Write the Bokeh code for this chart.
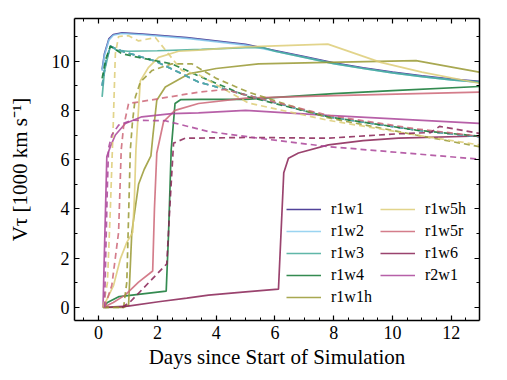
from bokeh.plotting import figure
from bokeh.models import (Range1d, LinearAxis, SingleIntervalTicker, Legend, LegendItem,
                          CustomJSTickFormatter)
from bokeh.embed import file_html
from bokeh.resources import INLINE

# ---------------- data (days, 1000 km/s) ----------------
models = ["r1w1", "r1w2", "r1w3", "r1w4", "r1w1h", "r1w5h", "r1w5r", "r1w6", "r2w1"]
colors = ["#332288", "#88CCEE", "#44AA99", "#117733", "#999933",
          "#DDCC77", "#CC6677", "#882255", "#AA4499"]

# solid lines
r1w1_x = [0.12, 0.2, 0.35, 0.5, 0.8, 1.5, 3.0, 5.0, 6.0, 7.0, 8.0, 9.0, 10.0, 11.0, 12.0, 12.95]
r1w1_y = [9.65, 10.3, 10.9, 11.08, 11.15, 11.1, 10.95, 10.68, 10.43, 10.18, 9.93, 9.73, 9.55, 9.4, 9.27, 9.18]
r1w2_x = [0.12, 0.2, 0.35, 0.5, 0.8, 1.5, 3.0, 5.0, 6.0, 7.0, 8.0, 9.0, 10.0, 11.0, 12.0, 12.95]
r1w2_y = [9.6, 10.25, 10.85, 11.05, 11.12, 11.07, 10.92, 10.65, 10.4, 10.15, 9.9, 9.7, 9.52, 9.37, 9.24, 9.15]
r1w3_x = [0.12, 0.2, 0.4, 0.6, 1.0, 2.0, 3.5, 5.0, 5.6, 6.0, 7.0, 8.0, 9.0, 10.0, 11.0, 12.0, 12.95]
r1w3_y = [8.55, 9.6, 10.62, 10.45, 10.4, 10.42, 10.48, 10.55, 10.55, 10.4, 10.15, 9.9, 9.7, 9.52, 9.37, 9.24, 9.15]
r1w4_x = [0.15, 0.3, 0.7, 1.5, 2.3, 2.38, 2.47, 2.6, 2.8, 3.5, 5.0, 8.0, 10.0, 12.95]
r1w4_y = [0.0, 0.2, 0.44, 0.55, 0.66, 3.0, 6.4, 8.28, 8.44, 8.45, 8.45, 8.68, 8.8, 8.97]
r1w1h_x = [0.15, 0.85, 1.02, 1.13, 1.36, 1.55, 1.78, 1.85, 1.98, 2.27, 3.06, 4.0, 5.44, 7.8, 10.8, 12.95]
r1w1h_y = [0.0, 0.0, 0.1, 3.05, 5.0, 5.6, 6.15, 7.0, 8.41, 8.95, 9.48, 9.7, 9.89, 9.95, 10.02, 9.55]
r1w5h_x = [0.15, 0.51, 0.74, 0.96, 1.16, 1.22, 1.27, 1.42, 1.7, 2.04, 2.72, 3.4, 5.0, 7.8, 9.6, 11.0, 12.95]
r1w5h_y = [0.0, 0.9, 1.97, 2.64, 3.05, 4.5, 6.4, 9.2, 9.75, 10.15, 10.4, 10.45, 10.58, 10.69, 9.95, 9.55, 9.1]
r1w5r_x = [0.15, 0.5, 0.9, 1.36, 1.84, 1.9, 1.98, 2.21, 2.6, 3.4, 5.0, 8.0, 12.95]
r1w5r_y = [0.0, 0.2, 0.5, 1.03, 1.48, 4.0, 6.27, 7.54, 8.0, 8.28, 8.5, 8.6, 8.74]
r1w6_x = [0.2, 1.0, 2.04, 3.0, 3.74, 5.0, 6.12, 6.3, 6.46, 6.8, 7.82, 9.0, 10.2, 12.95]
r1w6_y = [0.0, 0.05, 0.23, 0.38, 0.5, 0.63, 0.74, 5.47, 6.06, 6.27, 6.6, 6.77, 6.87, 6.96]
r2w1_x = [0.15, 0.28, 0.4, 0.57, 0.91, 1.47, 2.49, 3.4, 5.0, 7.8, 12.95]
r2w1_y = [0.0, 6.13, 6.53, 7.0, 7.47, 7.74, 7.87, 7.9, 8.0, 7.8, 7.47]

# dashed lines
r1w1_dx = [0.12, 0.25, 0.4, 0.8, 1.93, 2.6, 3.4, 5.1, 7.8, 10.8, 12.95]
r1w1_dy = [9.0, 10.0, 10.6, 10.4, 10.0, 9.62, 9.15, 8.6, 7.74, 7.2, 6.93]
r1w2_dx = [0.12, 0.25, 0.4, 0.8, 1.93, 2.6, 3.4, 5.1, 7.8, 10.8, 12.95]
r1w2_dy = [9.0, 10.0, 10.6, 10.4, 10.0, 9.62, 9.15, 8.6, 7.74, 7.2, 6.93]
r1w3_dx = [0.12, 0.25, 0.4, 0.8, 1.93, 2.6, 3.4, 5.1, 7.8, 10.8, 12.95]
r1w3_dy = [9.0, 10.0, 10.6, 10.4, 10.0, 9.62, 9.15, 8.6, 7.74, 7.2, 6.93]
r1w4_dx = [0.12, 0.25, 0.4, 0.8, 1.36, 2.49, 3.4, 5.1, 7.8, 10.8, 12.95]
r1w4_dy = [9.3, 10.1, 10.6, 10.3, 10.15, 9.89, 9.4, 8.55, 7.74, 7.2, 6.95]
r1w1h_dx = [0.15, 0.85, 0.96, 1.08, 1.15, 1.25, 1.42, 1.82, 2.49, 3.17, 4.0, 5.1, 7.8, 10.8, 12.95]
r1w1h_dy = [0.0, 0.0, 1.03, 6.4, 7.5, 8.54, 9.15, 9.62, 9.89, 9.89, 9.3, 8.74, 7.7, 7.0, 6.53]
r1w5h_dx = [0.15, 0.3, 0.4, 0.5, 0.57, 0.68, 1.02, 1.36, 1.93, 2.38, 2.83, 3.4, 5.1, 7.8, 10.8, 12.95]
r1w5h_dy = [0.0, 1.0, 4.0, 7.5, 10.3, 11.0, 11.03, 10.82, 10.96, 10.29, 9.62, 9.45, 8.3, 7.6, 7.0, 6.6]
r1w5r_dx = [0.2, 0.45, 0.68, 0.77, 0.85, 1.02, 1.36, 3.4, 4.3, 5.1, 7.8, 10.8, 12.95]
r1w5r_dy = [0.0, 0.9, 3.05, 6.4, 7.34, 8.28, 8.34, 8.74, 8.85, 8.6, 7.8, 7.25, 6.95]
r1w6_dx = [0.8, 1.08, 2.32, 2.42, 2.55, 2.95, 5.1, 7.8, 10.2, 11.3, 11.6, 12.95]
r1w6_dy = [0.0, 0.23, 1.77, 4.0, 6.67, 6.87, 6.9, 6.87, 7.05, 7.1, 7.35, 7.07]
r2w1_dx = [0.2, 0.3, 0.34, 0.45, 0.68, 1.13, 2.27, 3.74, 5.44, 7.8, 12.95]
r2w1_dy = [0.0, 5.0, 6.47, 7.0, 7.4, 7.6, 7.58, 7.14, 6.87, 6.53, 6.02]

solid = [(r1w1_x, r1w1_y), (r1w2_x, r1w2_y), (r1w3_x, r1w3_y), (r1w4_x, r1w4_y),
         (r1w1h_x, r1w1h_y), (r1w5h_x, r1w5h_y), (r1w5r_x, r1w5r_y), (r1w6_x, r1w6_y),
         (r2w1_x, r2w1_y)]
dashed = [(r1w1_dx, r1w1_dy), (r1w2_dx, r1w2_dy), (r1w3_dx, r1w3_dy), (r1w4_dx, r1w4_dy),
          (r1w1h_dx, r1w1h_dy), (r1w5h_dx, r1w5h_dy), (r1w5r_dx, r1w5r_dy), (r1w6_dx, r1w6_dy),
          (r2w1_dx, r2w1_dy)]

x_label = "Days since Start of Simulation"
y_label = "Vτ [1000 km s⁻¹]"

FONT = "'Liberation Serif'"

p = figure(width=497, height=371, output_backend="svg", toolbar_location=None,
           x_range=Range1d(-0.82, 12.96), y_range=Range1d(-0.53, 11.73),
           min_border_left=74, min_border_right=18, min_border_top=18, min_border_bottom=50,
           x_axis_label=x_label, y_axis_label=y_label)
p.outline_line_color = None
p.xgrid.visible = False
p.ygrid.visible = False
p.background_fill_color = "white"

p.xaxis.ticker = SingleIntervalTicker(interval=2, num_minor_ticks=4)
p.yaxis.ticker = SingleIntervalTicker(interval=2, num_minor_ticks=2)

def style_axis(ax, labels=True):
    ax.axis_line_width = 1.5
    ax.axis_line_color = "black"
    ax.major_tick_in = 5
    ax.major_tick_out = 0
    ax.minor_tick_in = 3
    ax.minor_tick_out = 0
    ax.major_tick_line_width = 1.2
    ax.minor_tick_line_width = 1
    ax.major_label_text_font = FONT
    ax.major_label_text_color = "black"
    ax.axis_label_text_font = FONT
    ax.axis_label_text_font_style = "normal"
    ax.axis_label_text_color = "black"
    ax.major_label_text_font_size = "18px"
    ax.axis_label_text_font_size = "21px"
    if not labels:
        ax.formatter = CustomJSTickFormatter(code="return ''")
        ax.major_label_standoff = 0

for ax in p.xaxis:
    style_axis(ax)
    ax.major_label_standoff = 5
    ax.axis_label_standoff = 3
for ax in p.yaxis:
    style_axis(ax)
    ax.major_label_standoff = 5
    ax.axis_label_standoff = 17

top = LinearAxis(ticker=SingleIntervalTicker(interval=2, num_minor_ticks=4))
right = LinearAxis(ticker=SingleIntervalTicker(interval=2, num_minor_ticks=2))
style_axis(top, labels=False)
style_axis(right, labels=False)
p.add_layout(top, "above")
p.add_layout(right, "right")

renderers = []
for (xs, ys), c in zip(solid, colors):
    r = p.line(xs, ys, line_color=c, line_width=1.7, line_alpha=0.85)
    renderers.append(r)
for (xs, ys), c in zip(dashed, colors):
    p.line(xs, ys, line_color=c, line_width=1.7, line_alpha=0.85, line_dash="6 4")

def make_legend(names, rends, loc):
    lg = Legend(items=[LegendItem(label=n, renderers=[r]) for n, r in zip(names, rends)],
                location=loc, orientation="vertical")
    lg.label_text_font = FONT
    lg.label_text_font_size = "16px"
    lg.label_text_color = "black"
    lg.glyph_width = 35
    lg.glyph_height = 20
    lg.label_height = 20
    lg.spacing = 2
    lg.padding = 0
    lg.margin = 0
    lg.label_standoff = 10
    lg.background_fill_alpha = 0
    lg.border_line_alpha = 0
    return lg

p.add_layout(make_legend(models[:5], renderers[:5], (212, 13)), "center")
p.add_layout(make_legend(models[5:], renderers[5:], (306, 35)), "center")

open("out.html", "w").write(file_html(p, INLINE))
